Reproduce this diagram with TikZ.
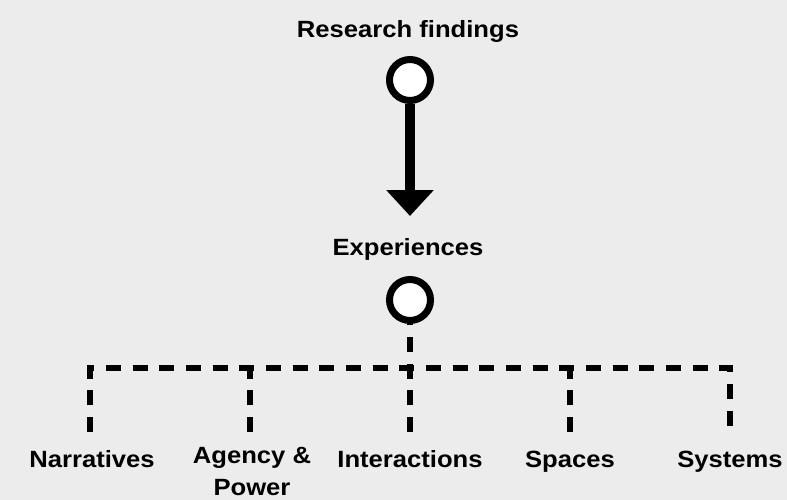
\documentclass[tikz,border=0pt]{standalone}
\usepackage{fontspec}
\setmainfont{Liberation Sans}[FakeStretch=1.09]
\usepackage{xcolor}
\usetikzlibrary{positioning,arrows.meta,calc}
\definecolor{uBack}{HTML}{ECECEC}
\definecolor{uInk}{HTML}{000000}
\tikzset{
  lbl/.style={font=\fontsize{23.5}{32}\selectfont\bfseries, text=uInk,
              inner sep=0pt, align=center, anchor=base},
  dot/.style={circle, draw=uInk, line width=7pt, fill=white,
              minimum size=41pt, inner sep=0pt},
  flow/.style={-{Triangle[width=46pt, length=26pt]}, line width=10pt, uInk},
  % the branching lines under the second dot
  tree/.style={line width=5.5pt, uInk, dash pattern=on 15pt off 11.67pt},
}

\begin{document}
\begin{tikzpicture}[x=1pt, y=-1pt]

\fill[uBack] (0,0) rectangle (787,500);
\useasboundingbox (0,0) rectangle (787,500);

%% ── top: findings and their dot ───────────────────────────────────────────
\node[lbl] (find) at (408,38) {Research findings};
\node[dot] (find-dot) at (410,80) {};

%% ── middle: experiences ───────────────────────────────────────────────────
\node[lbl] (exp) at (408,255) {Experiences};
\node[dot] (exp-dot) at (410,300) {};
\coordinate (tip) at (410,216);
\draw[flow] (find-dot.south) -- (tip);

%% ── bottom: the five themes ───────────────────────────────────────────────
\node[lbl] (nar)   at (92,467)  {Narratives};
\node[lbl] (agen)  at (252,495) {Agency \&\\Power};
\node[lbl] (inter) at (410,467) {Interactions};
\node[lbl] (spac)  at (570,467) {Spaces};
\node[lbl] (syst)  at (730,467) {Systems};

\coordinate (bar) at (410,368);
\coordinate (foot) at (0,432);
\draw[tree] (foot -| 90,0) |- (bar) -| (foot -| 730,0);
\foreach \x in {250,570}
  \draw[tree] (foot -| \x,0) -- (bar -| \x,0);
\draw[tree] (foot -| exp-dot) -- (exp-dot.south);

\end{tikzpicture}
\end{document}
